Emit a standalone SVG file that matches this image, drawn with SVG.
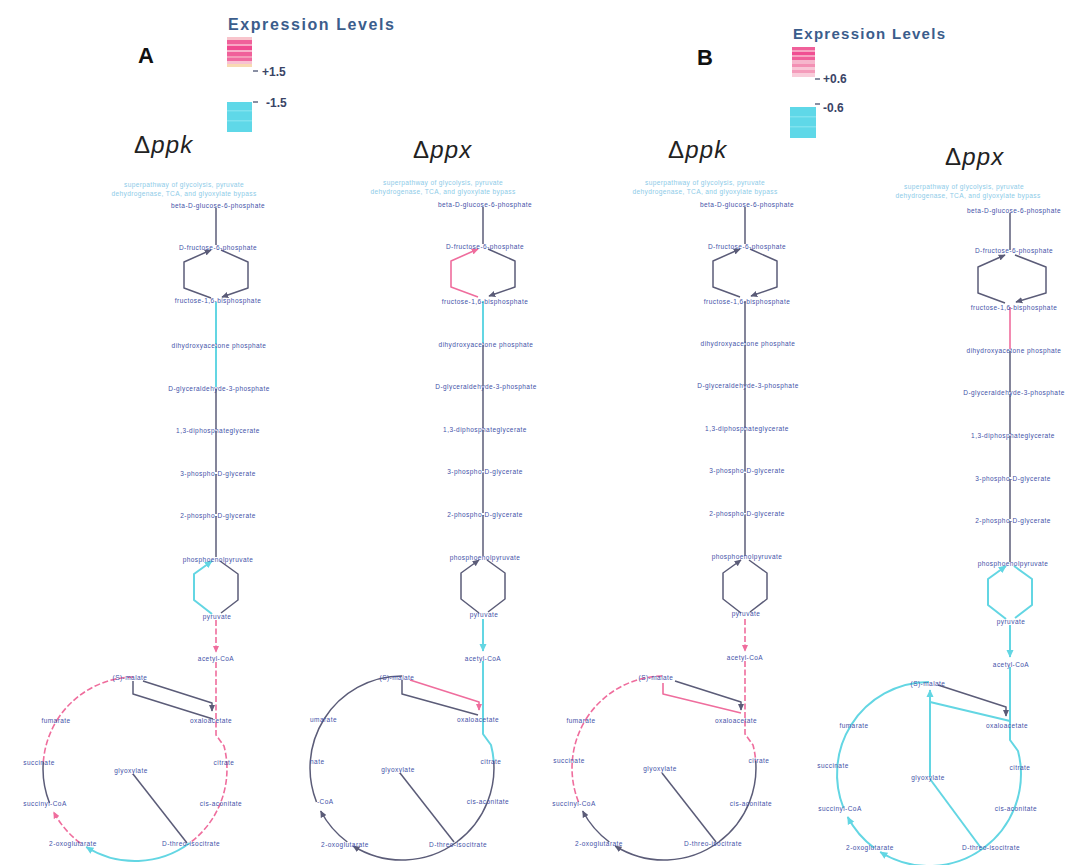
<svg xmlns="http://www.w3.org/2000/svg" width="1072" height="865" viewBox="0 0 1072 865">
  <defs>
    <style>
      .lbl{font-family:"Liberation Sans",Arial,sans-serif;font-size:6.5px;fill:#4352a8;text-anchor:middle;dominant-baseline:central;letter-spacing:0.45px}
      .st{text-anchor:start}
      .ttl{font-family:"Liberation Sans",Arial,sans-serif;font-size:6.6px;fill:#8dcbe8;text-anchor:middle;letter-spacing:0.35px}
      .d{fill:none;stroke:#5b5c78;stroke-width:1.5;stroke-linejoin:round}
      .c{fill:none;stroke:#63d6e3;stroke-width:2;stroke-linejoin:round}
      .p{fill:none;stroke:#ef6d9d;stroke-width:1.6;stroke-linejoin:round}
      .dash{stroke-dasharray:6 2.5}
      .head{font-family:"Liberation Sans",Arial,sans-serif;font-size:22px;font-weight:bold;fill:#111}
      .strain{font-family:"Liberation Sans",Arial,sans-serif;font-size:24px;fill:#222;letter-spacing:1.2px}
      .leg{font-family:"Liberation Sans",Arial,sans-serif;font-weight:bold;fill:#3b5d8c}
      .val{font-family:"Liberation Sans",Arial,sans-serif;font-size:12px;font-weight:bold;fill:#3a4466}
      .tick{stroke:#3a4466;stroke-width:1.2}
    </style>
    <marker id="ah-d" viewBox="0 0 10 10" refX="9" refY="5" markerWidth="7" markerHeight="7" markerUnits="userSpaceOnUse" orient="auto"><path d="M0,0.5 L10,5 L0,9.5 z" fill="#5b5c78"/></marker>
    <marker id="ah-c" viewBox="0 0 10 10" refX="9" refY="5" markerWidth="8" markerHeight="8" markerUnits="userSpaceOnUse" orient="auto"><path d="M0,0.5 L10,5 L0,9.5 z" fill="#63d6e3"/></marker>
    <marker id="ah-p" viewBox="0 0 10 10" refX="9" refY="5" markerWidth="7" markerHeight="7" markerUnits="userSpaceOnUse" orient="auto"><path d="M0,0.5 L10,5 L0,9.5 z" fill="#ef6d9d"/></marker>
  </defs>

  <rect width="1072" height="865" fill="#ffffff"/>

  <!-- panel letters and strain names -->
  <text class="head" x="138" y="63">A</text>
  <text class="head" x="697" y="65">B</text>
  <text class="strain" x="134" y="153">Δ<tspan font-style="italic">ppk</tspan></text>
  <text class="strain" x="413" y="158">Δ<tspan font-style="italic">ppx</tspan></text>
  <text class="strain" x="668" y="158">Δ<tspan font-style="italic">ppk</tspan></text>
  <text class="strain" x="945" y="165">Δ<tspan font-style="italic">ppx</tspan></text>

  <!-- colour legend, panel A -->
  <g id="legend-a">
    <text class="leg" x="228" y="30" font-size="16" textLength="166" lengthAdjust="spacing">Expression Levels</text>
    <rect x="227" y="37" width="25" height="3" fill="#f8c4cc"/>
    <rect x="227" y="40" width="25" height="4" fill="#f0609a"/>
    <rect x="227" y="44" width="25" height="2" fill="#f8a6c4"/>
    <rect x="227" y="46" width="25" height="4" fill="#f04a90"/>
    <rect x="227" y="50" width="25" height="2" fill="#f8b2ca"/>
    <rect x="227" y="52" width="25" height="4" fill="#f0609a"/>
    <rect x="227" y="56" width="25" height="2" fill="#f49ab8"/>
    <rect x="227" y="58" width="25" height="3" fill="#f06aa0"/>
    <rect x="227" y="61" width="25" height="3" fill="#f8c2d2"/>
    <rect x="227" y="64" width="25" height="3" fill="#f8dab2"/>
    <line class="tick" x1="253" y1="71" x2="258" y2="71"/>
    <text class="val" x="262" y="76">+1.5</text>
    <rect x="227" y="102" width="25" height="30" fill="#5fd8e8"/>
    <rect x="227" y="110" width="25" height="1.5" fill="#7fe2ee"/>
    <rect x="227" y="120" width="25" height="1.5" fill="#7fe2ee"/>
    <line class="tick" x1="253" y1="102" x2="258" y2="102"/>
    <text class="val" x="266" y="107">-1.5</text>
  </g>

  <!-- colour legend, panel B -->
  <g id="legend-b">
    <text class="leg" x="793" y="39" font-size="15" textLength="152" lengthAdjust="spacing">Expression Levels</text>
    <rect x="792" y="47" width="23" height="3" fill="#f0609a"/>
    <rect x="792" y="50" width="23" height="2" fill="#f7a4c2"/>
    <rect x="792" y="52" width="23" height="3" fill="#f04f92"/>
    <rect x="792" y="55" width="23" height="2" fill="#f7a4c2"/>
    <rect x="792" y="57" width="23" height="3" fill="#f0609a"/>
    <rect x="792" y="60" width="23" height="4" fill="#f6b6cc"/>
    <rect x="792" y="64" width="23" height="3" fill="#f390b4"/>
    <rect x="792" y="67" width="23" height="3" fill="#f8c6d6"/>
    <rect x="792" y="70" width="23" height="3" fill="#f49cbb"/>
    <rect x="792" y="73" width="23" height="4" fill="#f9ccda"/>
    <line class="tick" x1="815" y1="79" x2="820" y2="79"/>
    <text class="val" x="823" y="83">+0.6</text>
    <rect x="790" y="107" width="26" height="31" fill="#5fd8e8"/>
    <rect x="790" y="116" width="26" height="1.5" fill="#7fe2ee"/>
    <rect x="790" y="126" width="26" height="1.5" fill="#7fe2ee"/>
    <line class="tick" x1="815" y1="104" x2="820" y2="104"/>
    <text class="val" x="823" y="112">-0.6</text>
  </g>

  <!-- ===================== A : delta ppk ===================== -->
  <g id="panel-a-ppk" transform="translate(216,0)">
    <g id="a-connectors">
      <path class="d" d="M0,208 V245"/>
      <path class="d" d="M-5,298 L-32,288 L-32,262 L-5,250" marker-end="url(#ah-d)"/>
      <path class="d" d="M5,250 L32,262 L32,288 L6,297" marker-end="url(#ah-d)"/>
      <path class="c" d="M0,302 V344"/>
      <path class="c" d="M0,346 V387"/>
      <path class="d" d="M0,389 V429"/>
      <path class="d" d="M0,431 V472"/>
      <path class="d" d="M0,474 V514"/>
      <path class="d" d="M0,516 V557"/>
      <path class="c" d="M-4,614 L-22,600 L-22,574 L-4,561" marker-end="url(#ah-c)"/>
      <path class="d" d="M4,561 L22,574 L22,600 L5,613"/>
      <path class="p dash" d="M0,620 V652" marker-end="url(#ah-p)"/>
      <path class="p dash" d="M0,662 V735 L8,746 A92,92 0 0 1 10.7,762"/>
      <path class="p dash" d="M10.7,762 A92,92 0 0 1 4.5,803"/>
      <path class="p dash" d="M4.5,803 A92,92 0 0 1 -26.3,843"/>
      <path class="c" d="M-26.3,843 A92,92 0 0 1 -129.8,847" marker-end="url(#ah-c)"/>
      <path class="p dash" d="M-135.7,843 A92,92 0 0 1 -162.3,812" marker-end="url(#ah-p)"/>
      <path class="d" d="M-166.5,803 A92,92 0 0 1 -172.7,762"/>
      <path class="p dash" d="M-172.7,762 A92,92 0 0 1 -158.9,720"/>
      <path class="p dash" d="M-158.9,720 A92,92 0 0 1 -81,677"/>
      <path class="d" d="M-73,681 L-4,703 L-4,711" marker-end="url(#ah-d)"/>
      <path class="d" d="M-83,681 V694 L-3,719"/>
      <path class="d" d="M-83,774 L-29,843"/>
    </g>
    <g id="a-title"><text class="ttl" x="-32" y="187">superpathway of glycolysis, pyruvate</text><text class="ttl" x="-32" y="196">dehydrogenase, TCA, and glyoxylate bypass</text></g>
    <g id="a-g6p"><text class="lbl" x="2" y="205">beta-D-glucose-6-phosphate</text></g>
    <g id="a-f6p"><text class="lbl" x="2" y="247">D-fructose-6-phosphate</text></g>
    <g id="a-fbp"><text class="lbl" x="2" y="300">fructose-1,6-bisphosphate</text></g>
    <g id="a-dhap"><text class="lbl" x="3" y="345">dihydroxyacetone phosphate</text></g>
    <g id="a-gap"><text class="lbl" x="3" y="388">D-glyceraldehyde-3-phosphate</text></g>
    <g id="a-bpg"><text class="lbl" x="2" y="430">1,3-diphosphateglycerate</text></g>
    <g id="a-3pg"><text class="lbl" x="2" y="473">3-phospho-D-glycerate</text></g>
    <g id="a-2pg"><text class="lbl" x="2" y="515">2-phospho-D-glycerate</text></g>
    <g id="a-pep"><text class="lbl" x="2" y="559">phosphoenolpyruvate</text></g>
    <g id="a-pyr"><text class="lbl" x="1" y="616">pyruvate</text></g>
    <g id="a-accoa"><text class="lbl" x="0" y="658">acetyl-CoA</text></g>
    <g id="a-mal"><text class="lbl" x="-86" y="677">(S)-malate</text></g>
    <g id="a-oaa"><text class="lbl" x="-5" y="720">oxaloacetate</text></g>
    <g id="a-cit"><text class="lbl" x="8" y="762">citrate</text></g>
    <g id="a-acn"><text class="lbl" x="5" y="803">cis-aconitate</text></g>
    <g id="a-icit"><text class="lbl" x="-25" y="843">D-threo-isocitrate</text></g>
    <g id="a-akg"><text class="lbl" x="-143" y="843">2-oxoglutarate</text></g>
    <g id="a-sucoa"><text class="lbl" x="-171" y="803">succinyl-CoA</text></g>
    <g id="a-suc"><text class="lbl" x="-177" y="762">succinate</text></g>
    <g id="a-fum"><text class="lbl" x="-160" y="720">fumarate</text></g>
    <g id="a-glx"><text class="lbl" x="-85" y="770">glyoxylate</text></g>
  </g>

  <!-- ===================== A : delta ppx ===================== -->
  <g id="panel-a-ppx" transform="translate(483,-1)">
    <g id="b-connectors">
      <path class="d" d="M0,208 V245"/>
      <path class="p" d="M-5,298 L-32,288 L-32,262 L-5,250" marker-end="url(#ah-p)"/>
      <path class="d" d="M5,250 L32,262 L32,288 L6,297" marker-end="url(#ah-d)"/>
      <path class="c" d="M0,302 V344"/>
      <path class="d" d="M0,346 V387"/>
      <path class="d" d="M0,389 V429"/>
      <path class="d" d="M0,431 V472"/>
      <path class="d" d="M0,474 V514"/>
      <path class="d" d="M0,516 V557"/>
      <path class="d" d="M-4,614 L-22,600 L-22,574 L-4,561" marker-end="url(#ah-d)"/>
      <path class="d" d="M4,561 L22,574 L22,600 L5,613"/>
      <path class="c" d="M0,620 V652" marker-end="url(#ah-c)"/>
      <path class="c" d="M0,662 V735 L8,746 A92,92 0 0 1 10.7,762"/>
      <path class="d" d="M10.7,762 A92,92 0 0 1 4.5,803"/>
      <path class="d" d="M4.5,803 A92,92 0 0 1 -26.3,843"/>
      <path class="d" d="M-26.3,843 A92,92 0 0 1 -129.8,847" marker-end="url(#ah-d)"/>
      <path class="d" d="M-135.7,843 A92,92 0 0 1 -162.3,812" marker-end="url(#ah-d)"/>
      <path class="d" d="M-166.5,803 A92,92 0 0 1 -172.7,762"/>
      <path class="d" d="M-172.7,762 A92,92 0 0 1 -158.9,720"/>
      <path class="d" d="M-158.9,720 A92,92 0 0 1 -81,677"/>
      <path class="p" d="M-73,681 L-4,703 L-4,711" marker-end="url(#ah-p)"/>
      <path class="d" d="M-81,681 V695 L-5,716"/>
      <path class="d" d="M-83,774 L-29,843"/>
    </g>
    <g id="b-title"><text class="ttl" x="-40" y="186">superpathway of glycolysis, pyruvate</text><text class="ttl" x="-40" y="195">dehydrogenase, TCA, and glyoxylate bypass</text></g>
    <g id="b-g6p"><text class="lbl" x="2" y="205">beta-D-glucose-6-phosphate</text></g>
    <g id="b-f6p"><text class="lbl" x="2" y="247">D-fructose-6-phosphate</text></g>
    <g id="b-fbp"><text class="lbl" x="2" y="302">fructose-1,6-bisphosphate</text></g>
    <g id="b-dhap"><text class="lbl" x="3" y="345">dihydroxyacetone phosphate</text></g>
    <g id="b-gap"><text class="lbl" x="3" y="387">D-glyceraldehyde-3-phosphate</text></g>
    <g id="b-bpg"><text class="lbl" x="2" y="430">1,3-diphosphateglycerate</text></g>
    <g id="b-3pg"><text class="lbl" x="2" y="472">3-phospho-D-glycerate</text></g>
    <g id="b-2pg"><text class="lbl" x="2" y="515">2-phospho-D-glycerate</text></g>
    <g id="b-pep"><text class="lbl" x="2" y="558">phosphoenolpyruvate</text></g>
    <g id="b-pyr"><text class="lbl" x="1" y="615">pyruvate</text></g>
    <g id="b-accoa"><text class="lbl" x="0" y="659">acetyl-CoA</text></g>
    <g id="b-mal"><text class="lbl" x="-86" y="678">(S)-malate</text></g>
    <g id="b-oaa"><text class="lbl" x="-5" y="720">oxaloacetate</text></g>
    <g id="b-cit"><text class="lbl" x="8" y="762">citrate</text></g>
    <g id="b-acn"><text class="lbl" x="5" y="802">cis-aconitate</text></g>
    <g id="b-icit"><text class="lbl" x="-25" y="845">D-threo-isocitrate</text></g>
    <g id="b-akg"><text class="lbl" x="-138" y="845">2-oxoglutarate</text></g>
    <g id="b-sucoa"><text class="lbl st" x="-166" y="802">-CoA</text></g>
    <g id="b-suc"><text class="lbl st" x="-173" y="762">nate</text></g>
    <g id="b-fum"><text class="lbl st" x="-173" y="720">umarate</text></g>
    <g id="b-glx"><text class="lbl" x="-85" y="770">glyoxylate</text></g>
  </g>

  <!-- ===================== B : delta ppk ===================== -->
  <g id="panel-b-ppk" transform="translate(745,-1)">
    <g id="c-connectors">
      <path class="d" d="M0,208 V245"/>
      <path class="d" d="M-5,298 L-32,288 L-32,262 L-5,250" marker-end="url(#ah-d)"/>
      <path class="d" d="M5,250 L32,262 L32,288 L6,297" marker-end="url(#ah-d)"/>
      <path class="d" d="M0,302 V344"/>
      <path class="d" d="M0,346 V387"/>
      <path class="d" d="M0,389 V429"/>
      <path class="d" d="M0,431 V472"/>
      <path class="d" d="M0,474 V514"/>
      <path class="d" d="M0,516 V557"/>
      <path class="d" d="M-4,614 L-22,600 L-22,574 L-4,561" marker-end="url(#ah-d)"/>
      <path class="d" d="M4,561 L22,574 L22,600 L5,613"/>
      <path class="p dash" d="M0,620 V652" marker-end="url(#ah-p)"/>
      <path class="p dash" d="M0,662 V735 L8,746 A92,92 0 0 1 10.7,762"/>
      <path class="d" d="M10.7,762 A92,92 0 0 1 4.5,803"/>
      <path class="d" d="M4.5,803 A92,92 0 0 1 -26.3,843"/>
      <path class="d" d="M-26.3,843 A92,92 0 0 1 -129.8,847" marker-end="url(#ah-d)"/>
      <path class="d" d="M-135.7,843 A92,92 0 0 1 -162.3,812" marker-end="url(#ah-d)"/>
      <path class="p dash" d="M-166.5,803 A92,92 0 0 1 -172.7,762"/>
      <path class="p dash" d="M-172.7,762 A92,92 0 0 1 -158.9,720"/>
      <path class="p dash" d="M-158.9,720 A92,92 0 0 1 -81,677"/>
      <path class="d" d="M-70,682 L-4,703 L-4,711" marker-end="url(#ah-d)"/>
      <path class="p" d="M-82,684 V695 L-4,714"/>
      <path class="d" d="M-83,774 L-29,843"/>
    </g>
    <g id="c-title"><text class="ttl" x="-40" y="186">superpathway of glycolysis, pyruvate</text><text class="ttl" x="-40" y="195">dehydrogenase, TCA, and glyoxylate bypass</text></g>
    <g id="c-g6p"><text class="lbl" x="2" y="205">beta-D-glucose-6-phosphate</text></g>
    <g id="c-f6p"><text class="lbl" x="2" y="247">D-fructose-6-phosphate</text></g>
    <g id="c-fbp"><text class="lbl" x="2" y="302">fructose-1,6-bisphosphate</text></g>
    <g id="c-dhap"><text class="lbl" x="3" y="344">dihydroxyacetone phosphate</text></g>
    <g id="c-gap"><text class="lbl" x="3" y="386">D-glyceraldehyde-3-phosphate</text></g>
    <g id="c-bpg"><text class="lbl" x="2" y="429">1,3-diphosphateglycerate</text></g>
    <g id="c-3pg"><text class="lbl" x="2" y="471">3-phospho-D-glycerate</text></g>
    <g id="c-2pg"><text class="lbl" x="2" y="514">2-phospho-D-glycerate</text></g>
    <g id="c-pep"><text class="lbl" x="2" y="557">phosphoenolpyruvate</text></g>
    <g id="c-pyr"><text class="lbl" x="1" y="614">pyruvate</text></g>
    <g id="c-accoa"><text class="lbl" x="0" y="658">acetyl-CoA</text></g>
    <g id="c-mal"><text class="lbl" x="-89" y="678">(S)-malate</text></g>
    <g id="c-oaa"><text class="lbl" x="-9" y="721">oxaloacetate</text></g>
    <g id="c-cit"><text class="lbl" x="14" y="761">citrate</text></g>
    <g id="c-acn"><text class="lbl" x="6" y="804">cis-aconitate</text></g>
    <g id="c-icit"><text class="lbl" x="-32" y="844">D-threo-isocitrate</text></g>
    <g id="c-akg"><text class="lbl" x="-146" y="844">2-oxoglutarate</text></g>
    <g id="c-sucoa"><text class="lbl" x="-171" y="804">succinyl-CoA</text></g>
    <g id="c-suc"><text class="lbl" x="-176" y="761">succinate</text></g>
    <g id="c-fum"><text class="lbl" x="-164" y="721">fumarate</text></g>
    <g id="c-glx"><text class="lbl" x="-85" y="769">glyoxylate</text></g>
  </g>

  <!-- ===================== B : delta ppx ===================== -->
  <g id="panel-b-ppx" transform="translate(1010,5)">
    <g id="d-connectors">
      <path class="d" d="M0,208 V245"/>
      <path class="d" d="M-5,298 L-32,288 L-32,262 L-5,250" marker-end="url(#ah-d)"/>
      <path class="d" d="M5,250 L36,262 L36,288 L6,297" marker-end="url(#ah-d)"/>
      <path class="p" d="M0,302 V344"/>
      <path class="d" d="M0,346 V387"/>
      <path class="d" d="M0,389 V429"/>
      <path class="d" d="M0,431 V472"/>
      <path class="d" d="M0,474 V514"/>
      <path class="d" d="M0,516 V557"/>
      <path class="c" d="M-4,614 L-22,600 L-22,574 L-4,561" marker-end="url(#ah-c)"/>
      <path class="c" d="M4,561 L22,574 L22,600 L5,613"/>
      <path class="c" d="M0,620 V652" marker-end="url(#ah-c)"/>
      <path class="c" d="M0,662 V735 L8,746 A92,92 0 0 1 10.7,762"/>
      <path class="c" d="M10.7,762 A92,92 0 0 1 4.5,803"/>
      <path class="c" d="M4.5,803 A92,92 0 0 1 -26.3,843"/>
      <path class="c" d="M-26.3,843 A92,92 0 0 1 -129.8,847" marker-end="url(#ah-c)"/>
      <path class="c" d="M-135.7,843 A92,92 0 0 1 -162.3,812" marker-end="url(#ah-c)"/>
      <path class="c" d="M-166.5,803 A92,92 0 0 1 -172.7,762"/>
      <path class="c" d="M-172.7,762 A92,92 0 0 1 -158.9,720"/>
      <path class="c" d="M-158.9,720 A92,92 0 0 1 -81,677"/>
      <path class="c" d="M0,716 L-80,697"/>
      <path class="c" d="M-80,772 V685" marker-end="url(#ah-c)"/>
      <path class="d" d="M-72,680 L-4,702 L-4,711" marker-end="url(#ah-d)"/>
      <path class="c" d="M-80,774 L-29,843"/>
    </g>
    <g id="d-title"><text class="ttl" x="-46" y="184">superpathway of glycolysis, pyruvate</text><text class="ttl" x="-42" y="193">dehydrogenase, TCA, and glyoxylate bypass</text></g>
    <g id="d-g6p"><text class="lbl" x="4" y="205">beta-D-glucose-6-phosphate</text></g>
    <g id="d-f6p"><text class="lbl" x="4" y="245">D-fructose-6-phosphate</text></g>
    <g id="d-fbp"><text class="lbl" x="4" y="302">fructose-1,6-bisphosphate</text></g>
    <g id="d-dhap"><text class="lbl" x="4" y="345">dihydroxyacetone phosphate</text></g>
    <g id="d-gap"><text class="lbl" x="4" y="387">D-glyceraldehyde-3-phosphate</text></g>
    <g id="d-bpg"><text class="lbl" x="3" y="430">1,3-diphosphateglycerate</text></g>
    <g id="d-3pg"><text class="lbl" x="3" y="473">3-phospho-D-glycerate</text></g>
    <g id="d-2pg"><text class="lbl" x="3" y="515">2-phospho-D-glycerate</text></g>
    <g id="d-pep"><text class="lbl" x="3" y="558">phosphoenolpyruvate</text></g>
    <g id="d-pyr"><text class="lbl" x="1" y="616">pyruvate</text></g>
    <g id="d-accoa"><text class="lbl" x="1" y="659">acetyl-CoA</text></g>
    <g id="d-mal"><text class="lbl" x="-82" y="678">(S)-malate</text></g>
    <g id="d-oaa"><text class="lbl" x="-3" y="720">oxaloacetate</text></g>
    <g id="d-cit"><text class="lbl" x="10" y="762">citrate</text></g>
    <g id="d-acn"><text class="lbl" x="6" y="803">cis-aconitate</text></g>
    <g id="d-icit"><text class="lbl" x="-19" y="842">D-threo-isocitrate</text></g>
    <g id="d-akg"><text class="lbl" x="-140" y="842">2-oxoglutarate</text></g>
    <g id="d-sucoa"><text class="lbl" x="-170" y="803">succinyl-CoA</text></g>
    <g id="d-suc"><text class="lbl" x="-177" y="760">succinate</text></g>
    <g id="d-fum"><text class="lbl" x="-156" y="720">fumarate</text></g>
    <g id="d-glx"><text class="lbl" x="-82" y="772">glyoxylate</text></g>
  </g>
</svg>
